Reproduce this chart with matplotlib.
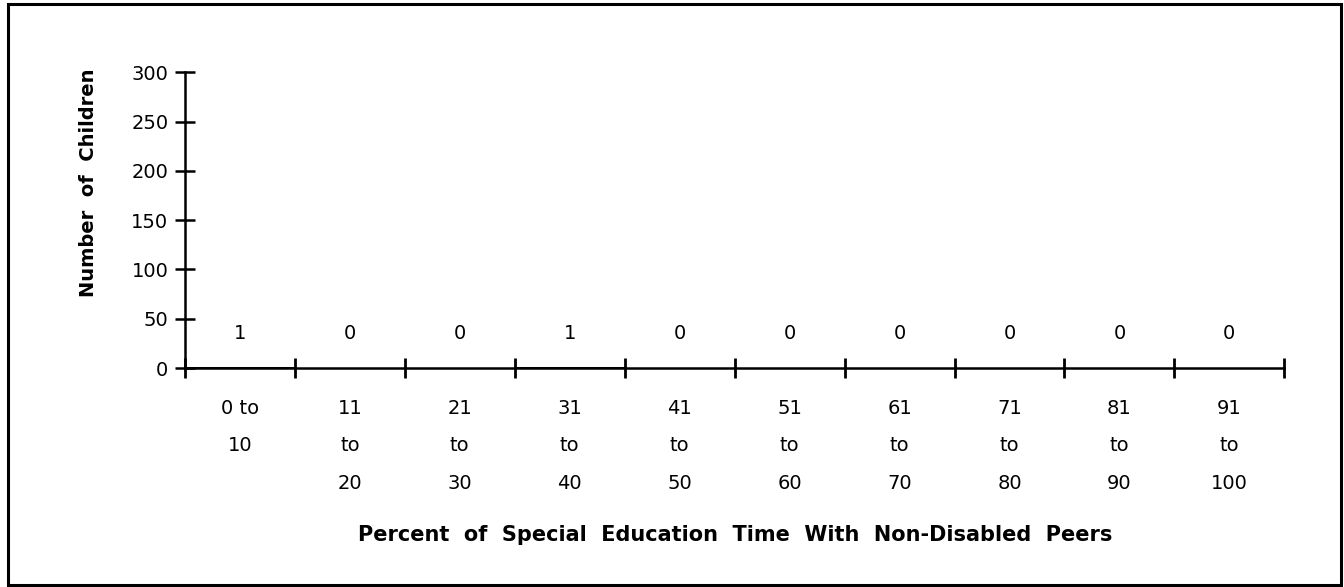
import numpy as np
import matplotlib.pyplot as plt
from matplotlib.patches import Rectangle

plt.rcParams['font.family'] = ['DejaVu Sans']

categories = ['0 to\n10', '11\nto\n20', '21\nto\n30', '31\nto\n40', '41\nto\n50',
              '51\nto\n60', '61\nto\n70', '71\nto\n80', '81\nto\n90', '91\nto\n100']
counts = [1, 0, 0, 1, 0, 0, 0, 0, 0, 0]
y_ticks = [0, 50, 100, 150, 200, 250, 300]


def generate_graph():
    fig = plt.figure(figsize=(13.44, 5.87), dpi=100)
    ax = fig.add_axes([0.1376, 0.373, 0.818, 0.504])

    x = np.arange(len(categories))
    ax.bar(x, counts, width=1.0, color='black')

    # value labels sit a fixed distance above the baseline
    for xi, c in zip(x, counts):
        ax.text(xi, 35, str(c), ha='center', va='center', fontsize=14)

    ax.set_xlim(-0.5, len(categories) - 0.5)
    ax.set_ylim(0, 300)
    ax.set_yticks(y_ticks)
    ax.set_xticks(x)
    ax.set_xticklabels(categories, fontsize=14, linespacing=2.25, va='top')
    ax.set_xticks(np.arange(len(categories) + 1) - 0.5, minor=True)
    ax.tick_params(axis='x', which='major', length=0, pad=22)
    ax.tick_params(axis='x', which='minor', direction='inout', length=14, width=2)
    ax.tick_params(axis='y', direction='inout', length=14, width=1.8, labelsize=14, pad=5)

    for s in ['top', 'right']:
        ax.spines[s].set_visible(False)
    ax.spines['left'].set_linewidth(1.8)
    ax.spines['bottom'].set_linewidth(1.8)

    fig.text(0.0655, 0.688, 'Number  of  Children', rotation=90,
             ha='center', va='center', fontsize=14, fontweight='bold')
    fig.text(0.547, 0.089, 'Percent  of  Special  Education  Time  With  Non-Disabled  Peers',
             ha='center', va='center', fontsize=15, fontweight='bold')

    # outer frame
    fig.patches.append(Rectangle((0.006, 0.004), 0.992, 0.99, transform=fig.transFigure,
                                 fill=False, edgecolor='black', linewidth=2.2))

    plt.savefig('out.png')


if __name__ == "__main__":
    generate_graph()
